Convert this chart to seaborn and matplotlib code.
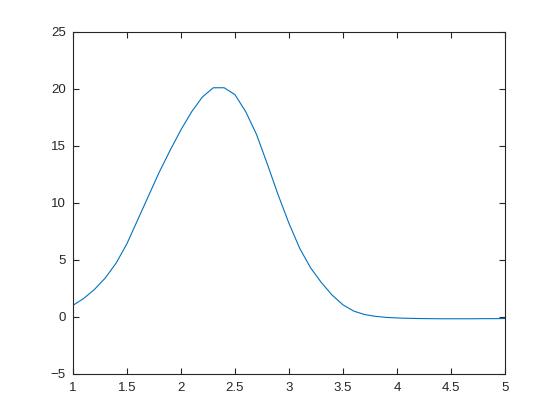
import matplotlib
matplotlib.use('Agg')
import matplotlib.pyplot as plt
import seaborn as sns
import pandas as pd

# values, step 0.1
x = [1.0, 1.1, 1.2, 1.3, 1.4, 1.5, 1.6, 1.7, 1.8, 1.9,
     2.0, 2.1, 2.2, 2.3, 2.4, 2.5, 2.6, 2.7, 2.8, 2.9,
     3.0, 3.1, 3.2, 3.3, 3.4, 3.5, 3.6, 3.7, 3.8, 3.9,
     4.0, 4.1, 4.2, 4.3, 4.4, 4.5, 4.6, 4.7, 4.8, 4.9, 5.0]
y = [1.0, 1.6, 2.4, 3.4, 4.7, 6.4, 8.5, 10.6, 12.7, 14.6,
     16.4, 18.0, 19.3, 20.1, 20.1, 19.5, 18.0, 16.0, 13.4, 10.7,
     8.2, 6.0, 4.3, 3.0, 1.9, 1.05, 0.5, 0.2, 0.04, -0.05,
     -0.1, -0.13, -0.15, -0.16, -0.17, -0.17, -0.17, -0.17, -0.16, -0.16, -0.15]
xticks = [1, 1.5, 2, 2.5, 3, 3.5, 4, 4.5, 5]
xticklabels = ['1', '1.5', '2', '2.5', '3', '3.5', '4', '4.5', '5']
yticks = [-5, 0, 5, 10, 15, 20, 25]

sns.set_style('white')
plt.rcParams['font.family'] = ['Liberation Sans', 'DejaVu Sans']

df = pd.DataFrame({'x': x, 'y': y})
fig = plt.figure(figsize=(5.6, 4.2), dpi=100)
ax = fig.add_axes([0.13, 0.11, 0.772, 0.814])
sns.lineplot(data=df, x='x', y='y', color='#0072BD', linewidth=0.8, ax=ax)

ax.set_xlim(1, 5)
ax.set_ylim(-5, 25)
ax.set_xticks(xticks)
ax.set_xticklabels(xticklabels)
ax.set_yticks(yticks)
ax.set_xlabel('')
ax.set_ylabel('')
for s in ax.spines.values():
    s.set_visible(True)
    s.set_color('#262626')
    s.set_linewidth(0.8)
ax.tick_params(direction='in', length=4, width=0.8, color='#262626',
               labelcolor='#262626', labelsize=9.5,
               top=True, right=True, bottom=True, left=True)
ax.tick_params(axis='x', pad=6)
ax.tick_params(axis='y', pad=5)

fig.savefig('out.png', dpi=100)
